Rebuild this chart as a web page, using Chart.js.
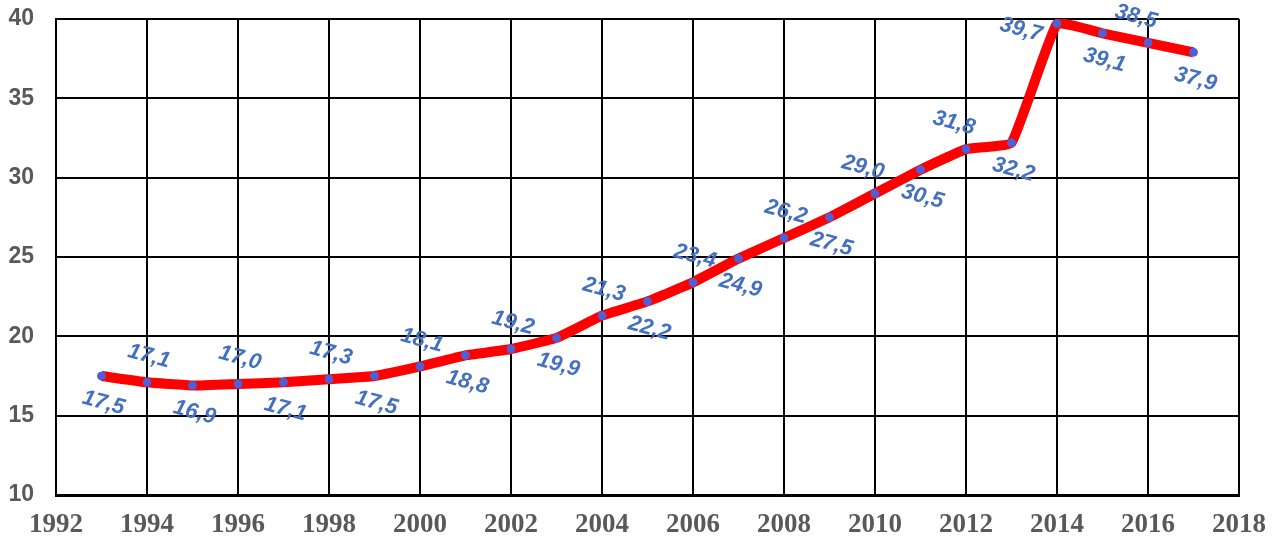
<!DOCTYPE html>
<html>
<head>
<meta charset="utf-8">
<script src="https://cdn.jsdelivr.net/npm/chart.js@4"></script>
<style>
  html, body { margin: 0; padding: 0; background: #fff; }
  #wrap { width: 1282px; height: 545px; }
</style>
</head>
<body>
<div id="wrap"><canvas id="myChart" width="1282" height="545"></canvas></div>
<script>
const years = [1993, 1994, 1995, 1996, 1997, 1998, 1999, 2000, 2001, 2002, 2003, 2004, 2005,
               2006, 2007, 2008, 2009, 2010, 2011, 2012, 2013, 2014, 2015, 2016, 2017];
const values = [17.5, 17.1, 16.9, 17.0, 17.1, 17.3, 17.5, 18.1, 18.8, 19.2, 19.9, 21.3, 22.2,
                23.4, 24.9, 26.2, 27.5, 29.0, 30.5, 31.8, 32.2, 39.7, 39.1, 38.5, 37.9];
const xTicks = [1992, 1994, 1996, 1998, 2000, 2002, 2004, 2006, 2008, 2010, 2012, 2014, 2016, 2018];
const yTicks = [10, 15, 20, 25, 30, 35, 40];

// value labels, alternating above / below, tilted like the original
const valueLabels = {
  id: 'valueLabels',
  afterDatasetsDraw(chart) {
    const c = chart.ctx;
    const pts = chart.getDatasetMeta(0).data;
    c.save();
    c.font = 'italic bold 22px "Liberation Sans", Arial, sans-serif';
    c.fillStyle = '#4470bf';
    c.textAlign = 'center';
    c.textBaseline = 'middle';
    pts.forEach((p, i) => {
      let dx = 2, dy = (i % 2 === 0) ? 27 : -26;
      if (years[i] === 2014) { dx = -36; dy = 6; }
      else if (dy < 0 && values[i] > 28) { dx = -12; }
      const txt = values[i].toFixed(1).replace('.', ',');
      c.save();
      c.translate(p.x + dx, p.y + dy);
      c.rotate(15 * Math.PI / 180);
      c.fillText(txt, 0, 0);
      c.restore();
    });
    c.restore();
  }
};

const ctx = document.getElementById('myChart').getContext('2d');
const myChart = new Chart(ctx, {
  type: 'line',
  data: {
    datasets: [{
      data: years.map((y, i) => ({ x: y, y: values[i] })),
      borderColor: '#ff0000',
      borderWidth: 10,
      tension: 0.1,
      pointRadius: 4,
      pointBackgroundColor: '#4f5fd6',
      pointBorderColor: '#4f5fd6',
      pointBorderWidth: 1
    }]
  },
  options: {
    responsive: false,
    animation: false,
    layout: { autoPadding: false, padding: { top: 19, right: 43, bottom: 0, left: 0 } },
    plugins: { legend: { display: false }, tooltip: { enabled: false } },
    scales: {
      x: {
        type: 'linear',
        min: 1992,
        max: 2018,
        afterBuildTicks: (axis) => { axis.ticks = xTicks.map(v => ({ value: v })); },
        afterFit: (axis) => { axis.height = 50; axis.paddingLeft = 0; axis.paddingRight = 0; },
        ticks: {
          color: '#595959',
          font: { family: '"Liberation Serif", "Times New Roman", serif', size: 27, weight: 'bold' },
          padding: 14,
          maxRotation: 0,
          callback: (v) => String(v)
        },
        grid: { color: '#000', lineWidth: 2, drawTicks: false },
        border: { color: '#000', width: 3 }
      },
      y: {
        min: 10,
        max: 40,
        afterBuildTicks: (axis) => { axis.ticks = yTicks.map(v => ({ value: v })); },
        afterFit: (axis) => { axis.width = 56; axis.paddingTop = 0; axis.paddingBottom = 0; },
        ticks: {
          color: '#595959',
          font: { family: '"Liberation Sans", Arial, sans-serif', size: 23, weight: 'bold' },
          padding: 22
        },
        grid: { color: '#000', lineWidth: 2, drawTicks: false },
        border: { color: '#000', width: 2 }
      }
    }
  },
  plugins: [valueLabels]
});
</script>
</body>
</html>
